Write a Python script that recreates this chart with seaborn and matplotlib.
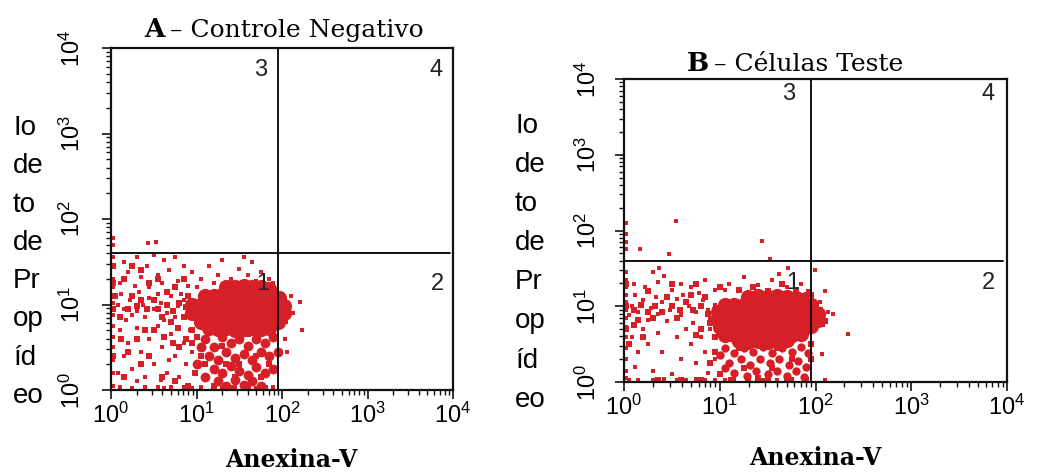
import numpy as np
import matplotlib
matplotlib.use('Agg')
import matplotlib.pyplot as plt
from matplotlib.ticker import LogLocator, NullFormatter
import seaborn as sns

# all event coordinates are log10 units (decades)
# --- panel A: controle negativo ---
a_core_x = [1.35, 1.45, 1.55, 1.65, 1.75, 1.85,
            1.10, 1.20, 1.30, 1.40, 1.50, 1.60, 1.70, 1.80, 1.90, 1.97,
            0.95, 1.05, 1.15, 1.25, 1.35, 1.45, 1.55, 1.65, 1.75, 1.85, 1.95, 2.02,
            0.95, 1.05, 1.15, 1.25, 1.35, 1.45, 1.55, 1.65, 1.75, 1.85, 1.95, 2.02,
            1.05, 1.15, 1.25, 1.35, 1.45, 1.55, 1.65, 1.75, 1.85, 1.95,
            1.15, 1.25, 1.35, 1.45, 1.55, 1.65, 1.75, 1.85]
a_core_y = [1.20, 1.21, 1.22, 1.21, 1.20, 1.18,
            1.10, 1.10, 1.11, 1.10, 1.12, 1.10, 1.11, 1.10, 1.09, 1.08,
            1.00, 1.00, 1.00, 1.00, 1.00, 1.00, 1.00, 1.00, 1.00, 1.00, 1.00, 0.98,
            0.90, 0.90, 0.90, 0.90, 0.90, 0.90, 0.90, 0.90, 0.90, 0.90, 0.90, 0.90,
            0.80, 0.80, 0.80, 0.80, 0.80, 0.80, 0.80, 0.80, 0.80, 0.80,
            0.72, 0.71, 0.72, 0.70, 0.71, 0.72, 0.71, 0.72]
a_tail_x = [1.10, 1.20, 1.30, 1.40, 1.50, 1.60, 1.70, 1.80, 1.90,
            1.15, 1.25, 1.35, 1.45, 1.55, 1.65, 1.75, 1.85,
            1.20, 1.30, 1.40, 1.50, 1.60, 1.70, 1.80,
            1.25, 1.35, 1.45, 1.55, 1.65, 1.75, 1.90, 1.05, 1.00, 1.10, 1.95]
a_tail_y = [0.60, 0.50, 0.62, 0.55, 0.60, 0.52, 0.60, 0.55, 0.62,
            0.40, 0.35, 0.45, 0.38, 0.42, 0.35, 0.45, 0.40,
            0.25, 0.20, 0.28, 0.22, 0.18, 0.27, 0.20,
            0.10, 0.05, 0.12, 0.06, 0.10, 0.05, 0.25, 0.50, 0.30, 0.15, 0.45]
a_fill_x = [0.55, 0.65, 0.72, 0.80, 0.88, 0.60, 0.70, 0.78, 0.85, 0.90, 0.50, 0.42, 0.35, 0.30, 0.25, 0.20,
            0.65, 0.75, 0.45, 0.55, 0.35, 0.25, 0.15, 0.85, 0.95, 0.88, 0.80, 0.72, 0.62, 0.50, 0.40, 0.30,
            0.20, 0.10, 0.05, 0.95, 1.00, 1.05, 1.10, 0.98, 1.20, 1.40, 1.60, 1.80, 1.50, 1.35, 1.70, 1.85,
            1.60, 1.30, 1.45, 1.75, 0.12, 0.15, 0.45, 0.60, 0.75, 0.90, 0.35, 0.02, 0.02, 0.02, 0.02]
a_fill_y = [0.95, 1.00, 0.92, 1.02, 0.97, 0.85, 0.80, 0.72, 0.85, 1.10, 1.05, 0.95, 1.05, 0.98, 1.10, 0.95,
            1.15, 1.20, 1.25, 1.30, 1.40, 1.45, 1.30, 1.30, 0.70, 0.60, 0.50, 0.55, 0.62, 0.70, 0.70, 0.60,
            0.45, 0.85, 1.10, 0.55, 0.62, 0.40, 0.30, 0.20, 0.05, 0.02, 0.03, 0.02, 0.30, 0.30, 0.40, 0.30,
            0.65, 0.52, 0.15, 0.15, 0.60, 0.15, 0.40, 0.15, 0.10, 0.05, 0.30, 0.40, 0.95, 1.25, 1.45]
a_dot_x = [0.02, 0.02, 0.02, 0.02, 0.02, 0.02, 0.02, 0.02, 0.02, 0.02, 0.02, 0.02, 0.02, 0.02, 0.02, 0.02,
           0.10, 0.25, 0.40, 0.55, 0.62, 0.70, 0.85, 0.95, 1.05, 1.20, 1.30, 1.45, 1.55, 1.70, 1.80, 1.90,
           0.15, 0.30, 0.42, 0.50, 0.62, 0.75, 0.20, 0.35, 0.55, 0.68, 0.85, 0.95, 0.10, 0.28, 0.45, 0.60, 0.78, 0.90,
           0.43, 0.53,
           0.08, 0.15, 0.22, 0.30, 0.38, 0.45, 0.50, 0.58, 0.65, 0.70, 0.78, 0.85, 0.90, 0.12, 0.25, 0.40,
           0.55, 0.62, 0.75, 0.82, 0.95, 0.33, 0.18,
           0.10, 0.20, 0.30, 0.15, 0.25, 0.35, 0.45, 0.50, 0.55, 0.60, 0.65, 0.70, 0.75, 0.80, 0.85, 0.88,
           0.92, 0.95, 0.40, 0.08, 0.30, 0.58, 0.68,
           1.05, 1.15, 1.25, 1.30, 1.40, 1.50, 1.60, 1.65, 1.75, 1.85, 1.55, 1.20, 1.90, 1.00, 1.70,
           2.21, 2.23, 2.06, 2.13, 2.08, 2.05, 2.10, 2.03]
a_dot_y = [0.05, 0.20, 0.35, 0.50, 0.62, 0.75, 0.88, 0.95, 1.02, 1.10, 1.20, 1.30, 1.45, 1.55, 1.70, 1.78,
           0.03, 0.02, 0.04, 0.03, 0.02, 0.04, 0.03, 0.02, 0.03, 0.04, 0.02, 0.03, 0.04, 0.02, 0.03, 0.04,
           1.50, 1.55, 1.45, 1.58, 1.52, 1.55, 1.38, 1.32, 1.35, 1.40, 1.45, 1.38, 1.25, 1.22, 1.20, 1.25, 1.28, 1.22,
           1.72, 1.73,
           1.00, 0.95, 1.05, 0.92, 1.00, 1.08, 0.95, 1.02, 0.90, 1.10, 0.98, 1.05, 0.92, 1.12, 0.88, 0.85,
           1.12, 0.82, 0.85, 1.12, 0.85, 1.15, 0.82,
           0.70, 0.55, 0.72, 0.40, 0.25, 0.45, 0.60, 0.30, 0.75, 0.50, 0.20, 0.65, 0.40, 0.15, 0.55, 0.30,
           0.70, 0.45, 0.15, 0.20, 0.10, 0.12, 0.35,
           1.30, 1.45, 1.35, 1.52, 1.30, 1.42, 1.35, 1.50, 1.38, 1.30, 1.55, 1.25, 1.25, 1.20, 1.28,
           1.03, 0.70, 0.44, 0.90, 1.00, 0.80, 1.10, 0.60]

# --- panel B: celulas teste ---
b_core_x = [1.30, 1.40, 1.50, 1.60, 1.70, 1.80, 1.90,
            1.05, 1.15, 1.25, 1.35, 1.45, 1.55, 1.65, 1.75, 1.85, 1.95,
            0.98, 1.08, 1.18, 1.28, 1.38, 1.48, 1.58, 1.68, 1.78, 1.88, 1.98, 2.03,
            0.98, 1.08, 1.18, 1.28, 1.38, 1.48, 1.58, 1.68, 1.78, 1.88, 1.98, 2.03,
            1.00, 1.10, 1.20, 1.30, 1.40, 1.50, 1.60, 1.70, 1.80, 1.90, 1.95,
            1.05, 1.15, 1.25, 1.35, 1.45, 1.55, 1.65, 1.75, 1.85,
            1.20, 1.30, 1.40, 1.50, 1.60, 1.70]
b_core_y = [1.12, 1.13, 1.12, 1.13, 1.12, 1.11, 1.10,
            1.02, 1.02, 1.02, 1.02, 1.02, 1.02, 1.02, 1.02, 1.02, 1.02,
            0.92, 0.92, 0.92, 0.92, 0.92, 0.92, 0.92, 0.92, 0.92, 0.92, 0.92, 0.90,
            0.82, 0.82, 0.82, 0.82, 0.82, 0.82, 0.82, 0.82, 0.82, 0.82, 0.82, 0.82,
            0.72, 0.72, 0.72, 0.72, 0.72, 0.72, 0.72, 0.72, 0.72, 0.72, 0.74,
            0.62, 0.62, 0.62, 0.62, 0.62, 0.62, 0.62, 0.62, 0.64,
            0.54, 0.53, 0.54, 0.53, 0.54, 0.55]
b_tail_x = [1.05, 1.15, 1.25, 1.35, 1.45, 1.55, 1.65, 1.75, 1.85, 1.92,
            1.10, 1.22, 1.32, 1.42, 1.52, 1.62, 1.72, 1.82, 1.90,
            1.15, 1.28, 1.38, 1.50, 1.60, 1.70, 1.80, 1.88, 1.00, 1.05]
b_tail_y = [0.45, 0.38, 0.45, 0.40, 0.46, 0.38, 0.45, 0.40, 0.46, 0.38,
            0.25, 0.30, 0.22, 0.30, 0.25, 0.30, 0.22, 0.28, 0.20,
            0.12, 0.08, 0.15, 0.10, 0.14, 0.08, 0.14, 0.06, 0.35, 0.18]
b_fill_x = [0.10, 0.18, 0.25, 0.32, 0.40, 0.50, 0.58, 0.65, 0.72, 0.80, 0.88, 0.95, 0.85, 0.70, 0.55, 0.45,
            0.15, 0.30, 0.90, 0.80, 0.95, 0.75, 0.10, 0.20, 0.05, 0.25, 0.50, 0.75, 1.00, 1.20, 1.35, 1.50,
            1.65, 1.80, 1.95, 2.05, 2.10, 0.95, 0.90, 1.00, 1.12, 1.30, 1.50, 1.70, 1.90, 1.95, 1.95, 1.40,
            1.25, 1.55, 1.75, 1.60, 1.20, 0.02, 0.02, 0.02, 0.35, 0.60, 0.80]
b_fill_y = [0.95, 1.02, 0.92, 1.00, 0.93, 1.00, 0.95, 1.05, 0.95, 1.00, 0.90, 0.95, 1.12, 1.15, 0.85, 1.12,
            0.82, 0.85, 0.78, 0.70, 0.60, 0.62, 0.75, 0.60, 0.50, 1.20, 1.30, 1.30, 1.25, 1.22, 1.25, 1.20,
            1.30, 1.22, 1.15, 0.95, 0.80, 0.40, 0.25, 0.10, 0.03, 0.02, 0.03, 0.02, 0.03, 0.30, 0.50, 0.05,
            0.18, 0.18, 0.30, 0.45, 0.45, 0.70, 1.00, 1.30, 0.02, 0.02, 0.02]
b_dot_x = [0.02, 0.02, 0.02, 0.02, 0.02, 0.02, 0.02, 0.02, 0.02, 0.02, 0.02, 0.02, 0.02, 0.02, 0.02, 0.02, 0.02,
           0.54, 1.44, 0.17, 0.47, 1.53,
           0.37, 0.30, 1.71, 1.99,
           0.08, 0.15, 0.20, 0.28, 0.35, 0.40, 0.48, 0.55, 0.60, 0.68, 0.75, 0.82, 0.88, 0.95, 0.12, 0.25,
           0.45, 0.62, 0.72, 0.90, 0.05, 0.33, 0.78,
           0.10, 0.22, 0.35, 0.50, 0.60, 0.70, 0.85, 0.95, 0.42, 1.10, 1.25, 1.40, 1.55, 1.70, 1.85, 1.05,
           1.62, 1.92,
           0.08, 0.15, 0.12, 0.20, 0.25, 0.35, 0.55, 0.65, 0.70, 0.80, 0.85, 0.90, 0.60, 0.75, 0.95, 0.30,
           0.50, 0.40, 0.88,
           0.05, 0.15, 0.30, 0.42, 0.55, 0.65, 0.75, 0.85, 0.95, 1.05, 1.15, 1.30, 1.45, 1.60, 1.75, 1.90, 2.10,
           2.34, 2.07, 2.18, 2.13, 2.05, 2.08, 2.10]
b_dot_y = [0.05, 0.15, 0.30, 0.45, 0.60, 0.72, 0.85, 0.95, 1.05, 1.15, 1.25, 1.35, 1.45, 1.75, 1.85, 1.95, 2.10,
           2.13, 1.86, 1.76, 1.69, 1.62,
           1.50, 1.45, 1.50, 1.48,
           1.00, 0.92, 1.08, 0.98, 0.90, 1.05, 0.95, 1.10, 0.88, 1.00, 0.92, 1.08, 0.95, 1.02, 1.15, 0.82,
           0.80, 1.15, 0.78, 0.85, 0.88, 1.12, 1.18,
           1.30, 1.25, 1.32, 1.22, 1.30, 1.25, 1.35, 1.22, 1.40, 1.30, 1.38, 1.28, 1.35, 1.25, 1.30, 1.22,
           1.42, 1.20,
           0.60, 0.40, 0.20, 0.70, 0.50, 0.65, 0.60, 0.70, 0.50, 0.60, 0.40, 0.70, 0.30, 0.25, 0.30, 0.15,
           0.10, 0.40, 0.12,
           0.02, 0.03, 0.02, 0.04, 0.03, 0.02, 0.04, 0.03, 0.02, 0.03, 0.04, 0.02, 0.03, 0.02, 0.04, 0.03, 0.02,
           0.63, 0.37, 0.90, 0.92, 1.05, 0.75, 1.20]

# quadrant gates (log10) and labels
gate_x = 1.95
gate_y = 1.6
panel_letters = ['A', 'B']
panel_titles = ['– Controle Negativo', '– Células Teste']
x_label = 'Anexina-V'
y_label_parts = ['Io', 'de', 'to', 'de', 'Pr', 'op', 'íd', 'eo']
quadrants = ['3', '4', '1', '2']

RED = '#d71f28'
W, H = 1052, 472

sns.set_style('ticks')
plt.rcParams['font.family'] = ['Liberation Sans Narrow', 'Liberation Sans', 'DejaVu Sans']
plt.rcParams['text.color'] = 'black'
plt.rcParams['xtick.color'] = 'black'
plt.rcParams['ytick.color'] = 'black'


def px(x, y):
    return x / W, 1 - y / H


def draw_panel(ax, core, tail, fill, dots, tail_size, ylab_pad):
    groups = [(dots, 10, 's'), (fill, 20, 's'), (tail, tail_size, 'o'), (core, 120, 'o')]
    for (xs, ys), size, mk in groups:
        sns.scatterplot(x=10 ** np.array(xs), y=10 ** np.array(ys), ax=ax, s=size,
                        marker=mk, color=RED, linewidth=0, alpha=1, legend=False)
    ax.set_xscale('log')
    ax.set_yscale('log')
    ax.set_xlim(1, 1e4)
    ax.set_ylim(1, 1e4)
    ax.axvline(10 ** gate_x, color='#111111', lw=1.4)
    ax.axhline(10 ** gate_y, xmax=0.99, color='#111111', lw=1.4)
    for a in (ax.xaxis, ax.yaxis):
        a.set_major_locator(LogLocator(base=10, numticks=6))
        a.set_minor_locator(LogLocator(base=10, subs=np.arange(2, 10), numticks=20))
        a.set_minor_formatter(NullFormatter())
    ax.tick_params(which='major', length=6.5, width=1.2, labelsize=17, color='#111111')
    ax.tick_params(which='minor', length=3.8, width=1.0, color='#111111')
    ax.tick_params(axis='x', pad=2.5)
    ax.tick_params(axis='y', pad=ylab_pad, labelrotation=90)
    for lab in ax.get_yticklabels():
        lab.set_va('center')
    for s in ax.spines.values():
        s.set_visible(True)
        s.set_linewidth(1.6)
        s.set_color('#111111')
    ax.set_xlabel('')
    ax.set_ylabel('')


fig = plt.figure(figsize=(10.52, 4.72), dpi=100)
axA = fig.add_axes([111 / W, 1 - 390 / H, 342 / W, 342 / H])
axB = fig.add_axes([624 / W, 1 - 382 / H, 383 / W, 303 / H])

draw_panel(axA, (a_core_x, a_core_y), (a_tail_x, a_tail_y), (a_fill_x, a_fill_y), (a_dot_x, a_dot_y), 50, 12)
draw_panel(axB, (b_core_x, b_core_y), (b_tail_x, b_tail_y), (b_fill_x, b_fill_y), (b_dot_x, b_dot_y), 36, 10)

serif = 'DejaVu Serif'
# titles
fig.text(*px(165, 37), panel_letters[0], ha='right', va='baseline', family=serif, weight='bold', fontsize=19)
fig.text(*px(170, 37), panel_titles[0], ha='left', va='baseline', family=serif, fontsize=18)
fig.text(*px(709, 71), panel_letters[1], ha='right', va='baseline', family=serif, weight='bold', fontsize=19)
fig.text(*px(714, 71), panel_titles[1], ha='left', va='baseline', family=serif, fontsize=18)

# x labels
fig.text(*px(291, 467), x_label, ha='center', va='baseline', family=serif, weight='bold', fontsize=17)
fig.text(*px(815, 465), x_label, ha='center', va='baseline', family=serif, weight='bold', fontsize=17)

# y labels, one syllable per line
for i, part in enumerate(y_label_parts):
    fig.text(*px(13, 135 + i * 38.3), part, ha='left', va='baseline', family='Liberation Sans', fontsize=20)
    fig.text(*px(515, 133 + i * 39.1), part, ha='left', va='baseline', family='Liberation Sans', fontsize=20)

# quadrant numbers
quad_pos_a = [(261, 70), (436, 70), (263, 284), (437, 284)]
quad_pos_b = [(789, 94), (988, 94), (793, 283), (988, 283)]
for q, pa, pb in zip(quadrants, quad_pos_a, quad_pos_b):
    fig.text(*px(*pa), q, ha='center', va='center', family='Liberation Sans', fontsize=17, color='#222222')
    fig.text(*px(*pb), q, ha='center', va='center', family='Liberation Sans', fontsize=17, color='#222222')

fig.savefig('out.png', dpi=100)
